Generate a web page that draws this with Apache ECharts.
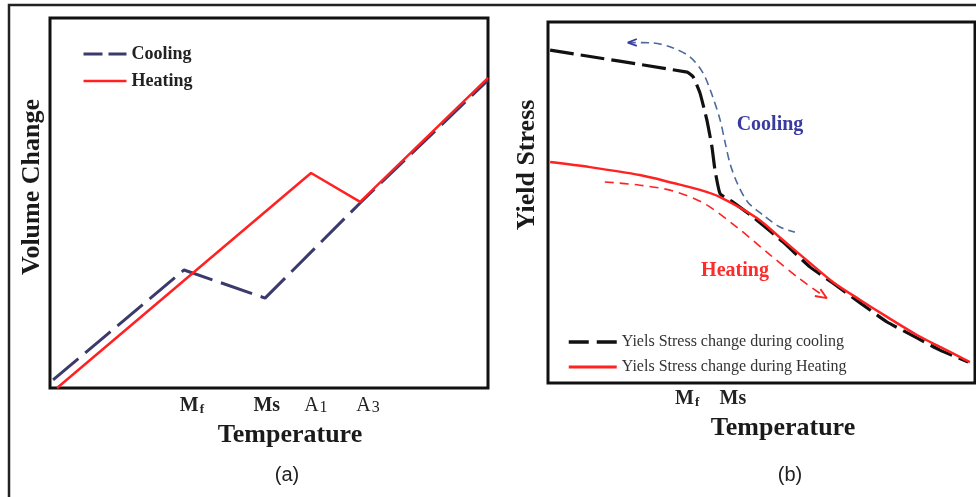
<!DOCTYPE html>
<html><head><meta charset="utf-8">
<script src="https://cdn.jsdelivr.net/npm/echarts@6/dist/echarts.min.js"></script>
<style>html,body{margin:0;padding:0;background:#fff}#c{width:976px;height:497px}</style>
</head><body><div id="c"></div>
<script>
// Panel (a): Volume change vs temperature
const aTickNames = ['Mf', 'Ms', 'A1', 'A3'];
const aTickPos = [32.4, 49.5, 60.7, 72.6];
const aCooling = [[0.7, 2.2], [30.6, 31.9], [49.1, 24.3], [70.8, 50.0], [100, 83.2]];
const aHeating = [[1.6, 0], [59.6, 58.1], [70.8, 50.3], [100, 83.8]];

// Panel (b): Yield stress vs temperature
const bTickNames = ['Mf', 'Ms'];
const bTickPos = [32.6, 43.3];
const bCooling = [[0.5, 92.2], [32.6, 86.1], [34.0, 84.8], [35.6, 80.3], [37.2, 72.9], [38.4, 65.4], [39.1, 59.0], [40.3, 52.4], [43.3, 50.1], [48.0, 46.0], [55.0, 39.1], [61.4, 32.1], [66.7, 27.7], [73.1, 22.2], [79.4, 16.9], [86.4, 12.5], [91.8, 9.1], [98.4, 5.8]];
const bHeating = [[0.5, 61.2], [9.8, 59.8], [21.5, 57.6], [29.3, 55.4], [35.6, 53.5], [40.3, 51.5], [48.9, 45.7], [55.0, 39.6], [61.4, 33.2], [66.7, 28.0], [73.1, 23.0], [79.4, 18.3], [86.4, 13.3], [91.8, 10.0], [98.8, 5.8]];
// annotation arrows (b)
const bCoolArrow = [[18.7, 94.3], [24.6, 94.2], [29.3, 92.8], [33.3, 90.3], [36.3, 85.9], [38.6, 79.2], [40.3, 72.9], [41.5, 66.5], [42.6, 60.9], [44.3, 55.4], [46.8, 50.1], [50.4, 46.5], [54.3, 43.2], [57.8, 41.8]];
const bCoolHead = [[20.8, 95.3], [18.7, 94.3], [20.8, 93.4]];
const bHeatArrow = [[13.3, 55.7], [21.5, 54.8], [29.3, 53.2], [36.8, 49.6], [44.5, 42.9], [52.0, 35.5], [59.0, 28.8], [65.3, 23.5]];
const bHeatHead = [[62.5, 24.1], [65.3, 23.5], [63.8, 26.0]];

const SERIF = '"Liberation Serif", "Times New Roman", serif';
const NAVY = '#3a3a6c', RED = '#ff2222', BLACK = '#111111';

function fmt(v, names, pos) {
  let i = -1, best = 1e9;
  pos.forEach((p, k) => { const d = Math.abs(p - v); if (d < best) { best = d; i = k; } });
  const n = names[i];
  if (n === 'Mf') return '{b|M}{sub|f}';
  if (n === 'Ms') return '{b|Ms}';
  return '{n|' + n[0] + '}{num|' + n.slice(1) + '}';
}
const richLab = {
  b: {fontFamily: SERIF, fontSize: 20, fontWeight: 'bold', color: '#222'},
  n: {fontFamily: SERIF, fontSize: 20, color: '#222'},
  sub: {fontFamily: SERIF, fontSize: 13, fontWeight: 'bold', color: '#222', verticalAlign: 'bottom', padding: [6, 0, 0, 1]},
  num: {fontFamily: SERIF, fontSize: 16, color: '#222', padding: [3, 0, 0, 1]}
};
const richLabB = JSON.parse(JSON.stringify(richLab));
richLabB.n.fontWeight = 'bold';

const chart = echarts.init(document.getElementById('c'), null, {renderer: 'canvas'});
const gridStyle = {show: true, borderColor: '#111', borderWidth: 3, backgroundColor: 'transparent', containLabel: false};
chart.setOption({
  animation: false,
  backgroundColor: '#fff',
  grid: [
    Object.assign({left: 50, top: 18, width: 438, height: 370}, gridStyle),
    Object.assign({left: 548, top: 22, width: 427, height: 361}, gridStyle)
  ],
  xAxis: [
    {gridIndex: 0, type: 'value', min: 0, max: 100, axisLine: {show: false}, axisTick: {show: false}, splitLine: {show: false},
     axisLabel: {customValues: aTickPos, margin: 8, formatter: v => fmt(v, aTickNames, aTickPos), rich: richLab}},
    {gridIndex: 1, type: 'value', min: 0, max: 100, axisLine: {show: false}, axisTick: {show: false}, splitLine: {show: false},
     axisLabel: {customValues: bTickPos, margin: 6, formatter: v => fmt(v, bTickNames, bTickPos), rich: richLabB}}
  ],
  yAxis: [
    {gridIndex: 0, type: 'value', min: 0, max: 100, axisLine: {show: false}, axisTick: {show: false}, splitLine: {show: false}, axisLabel: {show: false}},
    {gridIndex: 1, type: 'value', min: 0, max: 100, axisLine: {show: false}, axisTick: {show: false}, splitLine: {show: false}, axisLabel: {show: false}}
  ],
  legend: [
    {data: [{name: 'Cooling', lineStyle: {type: [19, 6], width: 3}}, {name: 'Heating', lineStyle: {width: 2.5}}],
     orient: 'vertical', left: 77, top: 40, itemWidth: 43, itemHeight: 14, itemGap: 9,
     itemStyle: {opacity: 0},
     textStyle: {fontFamily: SERIF, fontSize: 18, fontWeight: 'bold', color: '#222'}, selectedMode: false},
    {data: [{name: 'Yiels Stress change during cooling', lineStyle: {type: [20, 8], width: 3.5}}, {name: 'Yiels Stress change during Heating', lineStyle: {width: 3}}],
     orient: 'vertical', left: 562, top: 329, itemStyle: {opacity: 0},
     itemWidth: 48, itemHeight: 14, itemGap: 9, textStyle: {fontFamily: SERIF, fontSize: 16, color: '#333'}, selectedMode: false}
  ],
  series: [
    {name: 'Heating', type: 'line', xAxisIndex: 0, yAxisIndex: 0, data: aHeating, symbol: 'none', color: RED,
     lineStyle: {color: RED, width: 2.5}, z: 3},
    {name: 'Cooling', type: 'line', xAxisIndex: 0, yAxisIndex: 0, data: aCooling, symbol: 'none', color: NAVY,
     lineStyle: {color: NAVY, width: 3, type: [33, 9]}, z: 2},
    {name: 'Yiels Stress change during cooling', type: 'line', xAxisIndex: 1, yAxisIndex: 1, data: bCooling, symbol: 'none', color: BLACK,
     smooth: 0.12, lineStyle: {color: BLACK, width: 3.2, type: [24, 7]}, z: 2},
    {name: 'Yiels Stress change during Heating', type: 'line', xAxisIndex: 1, yAxisIndex: 1, data: bHeating, symbol: 'none', color: RED,
     smooth: 0.3, lineStyle: {color: RED, width: 2.5}, z: 3},
    {name: 'coolArrow', type: 'line', xAxisIndex: 1, yAxisIndex: 1, data: bCoolArrow, symbol: 'none', smooth: 0.3,
     lineStyle: {color: '#4d6a98', width: 1.6, type: [8, 5]}, z: 1},
    {name: 'coolHead', type: 'line', xAxisIndex: 1, yAxisIndex: 1, data: bCoolHead, symbol: 'none',
     lineStyle: {color: '#3b3ba8', width: 1.8}, z: 1},
    {name: 'heatArrow', type: 'line', xAxisIndex: 1, yAxisIndex: 1, data: bHeatArrow, symbol: 'none', smooth: 0.3,
     lineStyle: {color: RED, width: 1.6, type: [9, 6]}, z: 1},
    {name: 'heatHead', type: 'line', xAxisIndex: 1, yAxisIndex: 1, data: bHeatHead, symbol: 'none',
     lineStyle: {color: RED, width: 1.8}, z: 1}
  ],
  graphic: [
    {type: 'rect', shape: {x: 9, y: 5, width: 1100, height: 700}, style: {fill: 'none', stroke: '#222', lineWidth: 2.5}, silent: true},
    {type: 'text', x: 290, y: 435, style: {text: 'Temperature', font: 'bold 26px ' + SERIF, fill: '#1a1a1a', textAlign: 'center', textVerticalAlign: 'middle'}},
    {type: 'text', x: 783, y: 428, style: {text: 'Temperature', font: 'bold 26px ' + SERIF, fill: '#1a1a1a', textAlign: 'center', textVerticalAlign: 'middle'}},
    {type: 'text', x: 32, y: 187, rotation: Math.PI / 2, style: {text: 'Volume Change', font: 'bold 26px ' + SERIF, fill: '#1a1a1a', textAlign: 'center', textVerticalAlign: 'middle'}},
    {type: 'text', x: 527, y: 165, rotation: Math.PI / 2, style: {text: 'Yield Stress', font: 'bold 26px ' + SERIF, fill: '#1a1a1a', textAlign: 'center', textVerticalAlign: 'middle'}},
    {type: 'text', x: 287, y: 475, style: {text: '(a)', font: '20px "Liberation Sans", Arial, sans-serif', fill: '#222', textAlign: 'center', textVerticalAlign: 'middle'}},
    {type: 'text', x: 790, y: 475, style: {text: '(b)', font: '20px "Liberation Sans", Arial, sans-serif', fill: '#222', textAlign: 'center', textVerticalAlign: 'middle'}},
    {type: 'text', x: 770, y: 125, style: {text: 'Cooling', font: 'bold 20px ' + SERIF, fill: '#3a3aa0', textAlign: 'center', textVerticalAlign: 'middle'}},
    {type: 'text', x: 735, y: 271, style: {text: 'Heating', font: 'bold 20px ' + SERIF, fill: '#ff2a2a', textAlign: 'center', textVerticalAlign: 'middle'}}
  ]
});
</script></body></html>
